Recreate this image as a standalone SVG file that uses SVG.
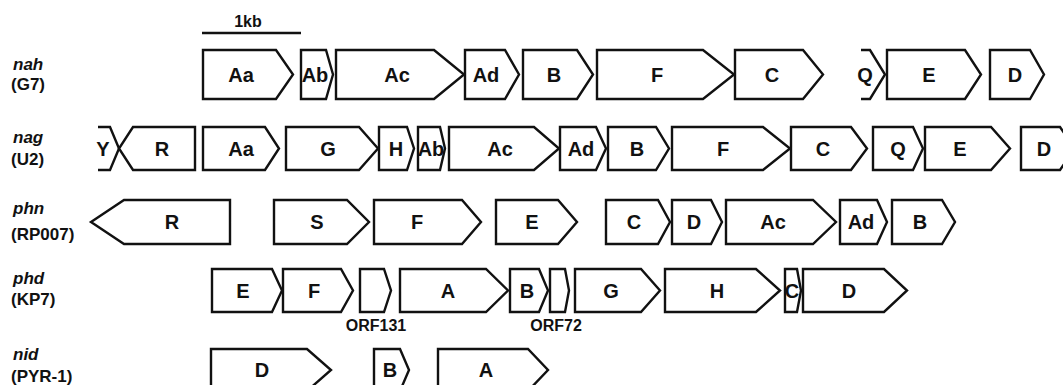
<svg xmlns="http://www.w3.org/2000/svg" width="1063" height="385" viewBox="0 0 1063 385">
<style>
.g{fill:#fff;stroke:#111;stroke-width:2.4;stroke-linejoin:miter}
.br{fill:none;stroke:#111;stroke-width:2.4}
.t{font-family:"Liberation Sans",Arial,sans-serif;font-weight:bold;font-size:20px;fill:#111;text-anchor:middle}
.s{font-size:16px}
.l{font-family:"Liberation Sans",Arial,sans-serif;font-weight:bold;font-size:17px;fill:#111}
.i{font-style:italic}
</style>
<rect width="1063" height="385" fill="#fff"/>
<g id="scale">
<line x1="202" y1="33" x2="301" y2="33" stroke="#111" stroke-width="2.4"/>
<text class="t s" x="248" y="27">1kb</text>
</g>
<g id="labels">
<text class="l i" x="13" y="70">nah</text><text class="l" x="11" y="90">(G7)</text>
<text class="l i" x="13" y="143">nag</text><text class="l" x="11" y="165">(U2)</text>
<text class="l i" x="13" y="214">phn</text><text class="l" x="11" y="240">(RP007)</text>
<text class="l i" x="13" y="284">phd</text><text class="l" x="11" y="305">(KP7)</text>
<text class="l i" x="13" y="360">nid</text><text class="l" x="11" y="382">(PYR-1)</text>
</g>
<g id="nah">
<g id="nah-Aa"><polygon class="g" points="203,50 276,50 293,74.5 276,99 203,99"/><text class="t" x="241" y="81.5">Aa</text></g>
<g id="nah-Ab"><polygon class="g" points="301,50 326,50 333,74.5 326,99 301,99"/><text class="t" x="315" y="81.5">Ab</text></g>
<g id="nah-Ac"><polygon class="g" points="336,50 434,50 464,74.5 434,99 336,99"/><text class="t" x="397" y="81.5">Ac</text></g>
<g id="nah-Ad"><polygon class="g" points="465,50 505,50 519,74.5 505,99 465,99"/><text class="t" x="486" y="81.5">Ad</text></g>
<g id="nah-B"><polygon class="g" points="523,50 577,50 593,74.5 577,99 523,99"/><text class="t" x="554" y="81.5">B</text></g>
<g id="nah-F"><polygon class="g" points="597,50 703,50 734,74.5 703,99 597,99"/><text class="t" x="657" y="81.5">F</text></g>
<g id="nah-C"><polygon class="g" points="735,50 803,50 823,74.5 803,99 735,99"/><text class="t" x="772" y="81.5">C</text></g>
<g id="nah-Q"><polyline class="br" points="861,50 870,50 885,74.5 870,99 861,99"/><text class="t" x="865" y="81.5">Q</text></g>
<g id="nah-E"><polygon class="g" points="887,50 965,50 981,74.5 965,99 887,99"/><text class="t" x="929" y="81.5">E</text></g>
<g id="nah-D"><polygon class="g" points="990,50 1030,50 1044,74.5 1030,99 990,99"/><text class="t" x="1015" y="81.5">D</text></g>
</g>
<g id="nag">
<g id="nag-Y"><polyline class="br" points="98,127 110,127 119,148.5 110,170 98,170"/><text class="t" x="103" y="155.5">Y</text></g>
<g id="nag-R"><polygon class="g" points="195,127 133,127 119,148.5 133,170 195,170"/><text class="t" x="162" y="155.5">R</text></g>
<g id="nag-Aa"><polygon class="g" points="203,127 265,127 279,148.5 265,170 203,170"/><text class="t" x="241" y="155.5">Aa</text></g>
<g id="nag-G"><polygon class="g" points="286,127 359,127 378,148.5 359,170 286,170"/><text class="t" x="328" y="155.5">G</text></g>
<g id="nag-H"><polygon class="g" points="379,127 407,127 414,148.5 407,170 379,170"/><text class="t" x="396" y="155.5">H</text></g>
<g id="nag-Ab"><polygon class="g" points="418,127 440,127 445,148.5 440,170 418,170"/><text class="t" x="431" y="155.5">Ab</text></g>
<g id="nag-Ac"><polygon class="g" points="449,127 534,127 559,148.5 534,170 449,170"/><text class="t" x="500" y="155.5">Ac</text></g>
<g id="nag-Ad"><polygon class="g" points="560,127 596,127 606,148.5 596,170 560,170"/><text class="t" x="581" y="155.5">Ad</text></g>
<g id="nag-B"><polygon class="g" points="608,127 656,127 669,148.5 656,170 608,170"/><text class="t" x="637" y="155.5">B</text></g>
<g id="nag-F"><polygon class="g" points="672,127 763,127 790,148.5 763,170 672,170"/><text class="t" x="723" y="155.5">F</text></g>
<g id="nag-C"><polygon class="g" points="791,127 851,127 867,148.5 851,170 791,170"/><text class="t" x="823" y="155.5">C</text></g>
<g id="nag-Q"><polygon class="g" points="873,127 913,127 923,148.5 913,170 873,170"/><text class="t" x="898" y="155.5">Q</text></g>
<g id="nag-E"><polygon class="g" points="925,127 991,127 1010,148.5 991,170 925,170"/><text class="t" x="960" y="155.5">E</text></g>
<g id="nag-D"><polygon class="g" points="1021,127 1060,127 1075,148.5 1060,170 1021,170"/><text class="t" x="1044" y="155.5">D</text></g>
</g>
<g id="phn">
<g id="phn-R"><polygon class="g" points="230,200 124,200 91,222 124,244 230,244"/><text class="t" x="172" y="229">R</text></g>
<g id="phn-S"><polygon class="g" points="274,200 347,200 369,222 347,244 274,244"/><text class="t" x="317" y="229">S</text></g>
<g id="phn-F"><polygon class="g" points="374,200 462,200 481,222 462,244 374,244"/><text class="t" x="417" y="229">F</text></g>
<g id="phn-E"><polygon class="g" points="496,200 558,200 577,222 558,244 496,244"/><text class="t" x="532" y="229">E</text></g>
<g id="phn-C"><polygon class="g" points="606,200 658,200 670,222 658,244 606,244"/><text class="t" x="634" y="229">C</text></g>
<g id="phn-D"><polygon class="g" points="672,200 711,200 722,222 711,244 672,244"/><text class="t" x="694" y="229">D</text></g>
<g id="phn-Ac"><polygon class="g" points="726,200 813,200 836,222 813,244 726,244"/><text class="t" x="773" y="229">Ac</text></g>
<g id="phn-Ad"><polygon class="g" points="840,200 877,200 887,222 877,244 840,244"/><text class="t" x="861" y="229">Ad</text></g>
<g id="phn-B"><polygon class="g" points="892,200 942,200 955,222 942,244 892,244"/><text class="t" x="920" y="229">B</text></g>
</g>
<g id="phd">
<g id="phd-E"><polygon class="g" points="212,269 272,269 282,290.5 272,312 212,312"/><text class="t" x="243" y="297.5">E</text></g>
<g id="phd-F"><polygon class="g" points="283,269 341,269 353,290.5 341,312 283,312"/><text class="t" x="314" y="297.5">F</text></g>
<g id="phd-ORF131"><polygon class="g" points="360,269 384,269 391,290.5 384,312 360,312"/><text class="t s" x="376" y="331">ORF131</text></g>
<g id="phd-A"><polygon class="g" points="400,269 486,269 508,290.5 486,312 400,312"/><text class="t" x="448" y="297.5">A</text></g>
<g id="phd-B"><polygon class="g" points="510,269 539,269 548,290.5 539,312 510,312"/><text class="t" x="527" y="297.5">B</text></g>
<g id="phd-ORF72"><polygon class="g" points="550,269 565,269 569,290.5 565,312 550,312"/><text class="t s" x="556" y="331">ORF72</text></g>
<g id="phd-G"><polygon class="g" points="575,269 641,269 660,290.5 641,312 575,312"/><text class="t" x="611" y="297.5">G</text></g>
<g id="phd-H"><polygon class="g" points="665,269 756,269 780,290.5 756,312 665,312"/><text class="t" x="717" y="297.5">H</text></g>
<g id="phd-C"><polygon class="g" points="785,269 797,269 801,290.5 797,312 785,312"/><text class="t" x="792" y="297.5">C</text></g>
<g id="phd-D"><polygon class="g" points="803,269 884,269 907,290.5 884,312 803,312"/><text class="t" x="849" y="297.5">D</text></g>
</g>
<g id="nid">
<g id="nid-D"><polygon class="g" points="211,349 307,349 331,370 307,391 211,391"/><text class="t" x="262" y="377">D</text></g>
<g id="nid-B"><polygon class="g" points="374,349 400,349 409,370 400,391 374,391"/><text class="t" x="390" y="377">B</text></g>
<g id="nid-A"><polygon class="g" points="438,349 528,349 548,370 528,391 438,391"/><text class="t" x="486" y="377">A</text></g>
</g>
<g id="connectors"/>
</svg>
